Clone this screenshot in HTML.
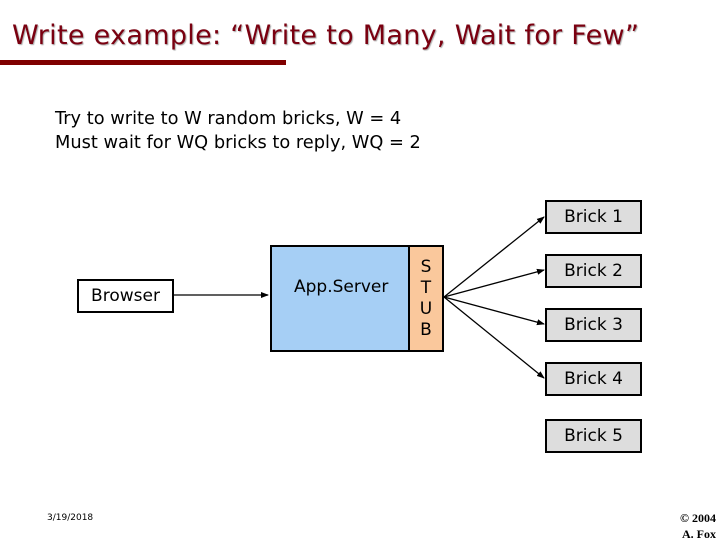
<!DOCTYPE html>
<html><head><style>
body{margin:0;width:720px;height:540px;background:#fff;position:relative;overflow:hidden;font-family:"DejaVu Sans","Liberation Sans",sans-serif}
.t{position:absolute;white-space:nowrap}
.box{position:absolute;box-sizing:border-box;border:2px solid #000;display:flex;align-items:center;justify-content:center;font-size:17px}
.brick{left:545px;width:97px;height:34px;background:#ddd}
</style></head><body>
<div class="t" style="left:12px;top:20px;font-size:27px;letter-spacing:0.3px;color:#7a0010;text-shadow:1px 1px 1px #aaa">Write example: “Write to Many, Wait for Few”</div>
<div style="position:absolute;left:0;top:60px;width:286px;height:5px;background:#800000"></div>
<div class="t" style="left:55px;top:107px;font-size:17.8px;line-height:24px">Try to write to W random bricks, W = 4<br>Must wait for WQ bricks to reply, WQ = 2</div>
<div class="box" style="left:77px;top:279px;width:97px;height:34px;background:#fff">Browser</div>
<div class="box" style="left:270px;top:245px;width:140px;height:107px;background:#a6cff5;align-items:flex-start;padding-top:30px;justify-content:flex-start;padding-left:22px">App.Server</div>
<div class="box" style="left:408px;top:245px;width:36px;height:107px;background:#fac89c;line-height:21px;text-align:center">S<br>T<br>U<br>B</div>
<div class="box brick" style="top:200px">Brick 1</div>
<div class="box brick" style="top:254px">Brick 2</div>
<div class="box brick" style="top:308px">Brick 3</div>
<div class="box brick" style="top:362px">Brick 4</div>
<div class="box brick" style="top:419px">Brick 5</div>
<svg width="720" height="540" style="position:absolute;left:0;top:0">
<defs><marker id="a" markerWidth="8" markerHeight="8" refX="7" refY="4" orient="auto" markerUnits="userSpaceOnUse"><path d="M0,1 L8,4 L0,7z"/></marker></defs>
<g stroke="#000" stroke-width="1.3" marker-end="url(#a)">
<line x1="174" y1="295" x2="268" y2="295"/>
<line x1="444" y1="297" x2="544" y2="217"/>
<line x1="444" y1="297" x2="544" y2="270"/>
<line x1="444" y1="297" x2="544" y2="324"/>
<line x1="444" y1="297" x2="544" y2="378"/>
</g></svg>
<div class="t" style="left:47px;top:513px;font-size:9px">3/19/2018</div>
<div class="t" style="right:4px;top:510px;font-size:12px;font-family:'Liberation Serif',serif;font-weight:bold;text-align:right;line-height:16px">© 2004<br>A. Fox</div>
</body></html>
